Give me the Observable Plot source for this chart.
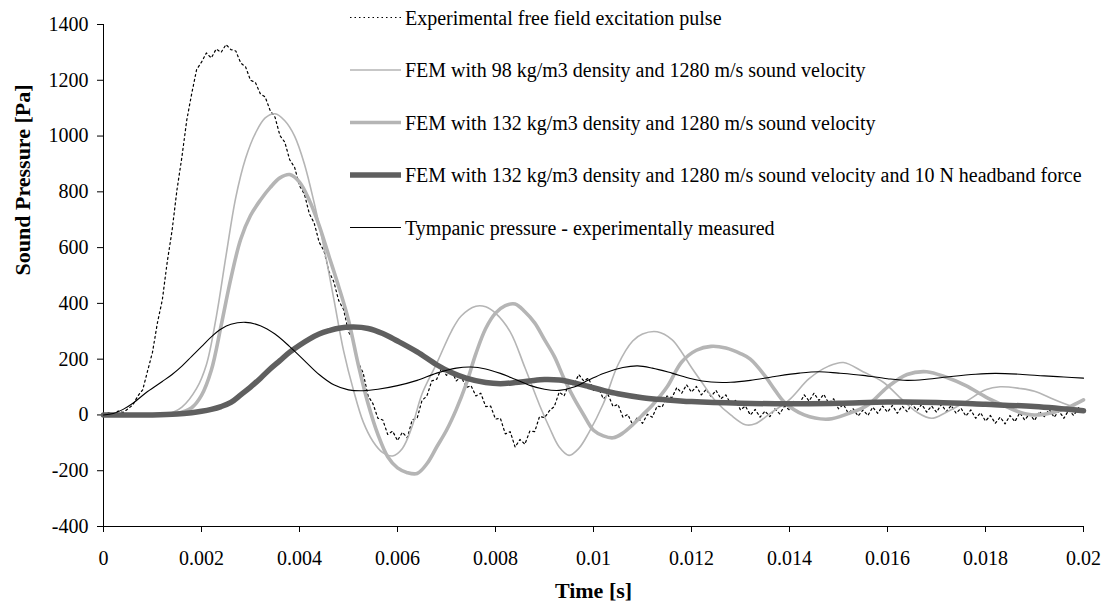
<!DOCTYPE html>
<html>
<head>
<meta charset="utf-8">
<script src="https://cdn.jsdelivr.net/npm/d3@7"></script>
<script src="https://cdn.jsdelivr.net/npm/@observablehq/plot@0.6"></script>
<style>
  body { margin: 0; background: #fff; }
  svg { display: block; }
</style>
</head>
<body>
<div id="chart"></div>
<script>
// ---------- data ----------
const seriesNames = [
  "Experimental free field excitation pulse",
  "FEM with 98 kg/m3 density and 1280 m/s sound velocity",
  "FEM with 132 kg/m3 density and 1280 m/s sound velocity",
  "FEM with 132 kg/m3 density and 1280 m/s sound velocity and 10 N headband force",
  "Tympanic pressure - experimentally measured"
];
const xTicks = [0, 0.002, 0.004, 0.006, 0.008, 0.01, 0.012, 0.014, 0.016, 0.018, 0.02];
const yTicks = [-400, -200, 0, 200, 400, 600, 800, 1000, 1200, 1400];
const xTitle = "Time [s]";
const yTitle = "Sound Pressure [Pa]";

// Experimental free-field pulse, sampled every 0.0001 s from 0 to 0.02 s
const pulseStep = 0.0001;
const pulseValue = [
  0, 8, 2, 14, 9, 22, 36, 68, 90, 158,
  225, 330, 412, 548, 662, 808, 925, 1058, 1152, 1238,
  1265, 1298, 1280, 1312, 1300, 1328, 1310, 1305, 1262, 1248,
  1200, 1192, 1152, 1140, 1092, 1068, 1002, 978, 915, 888,
  822, 792, 722, 688, 620, 588, 515, 478, 410, 378,
  298, 268, 188, 150, 68, 40, -12, -18, -70, -58,
  -92, -62, -82, -18, -12, 52, 68, 122, 128, 168,
  142, 160, 122, 138, 98, 105, 68, 78, 30, 32,
  -15, -12, -68, -60, -115, -88, -105, -58, -60, -5,
  -10, 15, 30, 82, 68, 112, 108, 145, 122, 132,
  88, 98, 58, 72, 30, 38, -8, 2, -35, -8,
  -30, 2, -8, 32, 28, 68, 62, 98, 78, 108,
  82, 102, 72, 92, 66, 88, 58, 72, 40, 52,
  18, 32, 0, 20, -8, 14, -6, 22, 4, 32,
  18, 52, 38, 72, 50, 78, 52, 74, 42, 58,
  22, 38, 6, 22, -4, 18, -2, 28, 6, 32,
  10, 34, 6, 32, 12, 40, 16, 38, 10, 32,
  10, 38, 12, 34, 6, 24, -4, 18, -12, 8,
  -22, -2, -30, -8, -32, -2, -24, 8, -18, 4,
  -20, 12, -6, 20, -8, 14, -12, 18, -2, 26,
  10
];

const fem98Time = [0, 0.0010, 0.0013, 0.0016, 0.0019, 0.0021, 0.0023, 0.0025, 0.0027, 0.0029,
  0.0031, 0.0033, 0.0035, 0.0037, 0.0039, 0.0041, 0.0043, 0.0045, 0.0047, 0.0049,
  0.0051, 0.0053, 0.0055, 0.0057, 0.0059, 0.0061, 0.0063, 0.0065, 0.0068, 0.0071,
  0.0073, 0.0076, 0.0078, 0.0080, 0.0083, 0.0086, 0.0089, 0.0091, 0.0093, 0.0095,
  0.0097, 0.0099, 0.0102, 0.0105, 0.0108, 0.0110, 0.0113, 0.0116, 0.0118, 0.0120,
  0.0122, 0.0125, 0.0128, 0.0131, 0.0133, 0.0136, 0.0140, 0.0144, 0.0148, 0.0151,
  0.0155, 0.0159, 0.0163, 0.0166, 0.0169, 0.0172, 0.0176, 0.0180, 0.0183, 0.0187,
  0.0190, 0.0194, 0.0197, 0.0200];
const fem98Value = [0, 0, 3, 28, 95, 180, 350, 570, 780, 920,
  1010, 1065, 1080, 1055, 1000, 900, 760, 600, 416, 230,
  90, -25, -95, -135, -147, -120, -40, 75, 185, 300,
  355, 390, 388, 365, 298, 170, 35, -45, -115, -145,
  -120, -65, 40, 180, 265, 290, 298, 270, 225, 170,
  120, 48, 0, -35, -32, 5, 55, 130, 175, 188,
  155, 119, 55, 10, -12, 10, 48, 90, 101, 95,
  85, 55, 35, 15];

const fem132Time = [0, 0.0012, 0.0015, 0.0018, 0.0020, 0.0022, 0.0024, 0.0026, 0.0028, 0.0030,
  0.0032, 0.0034, 0.0036, 0.0038, 0.0040, 0.0042, 0.0044, 0.0046, 0.0048, 0.0050,
  0.0052, 0.0054, 0.0056, 0.0058, 0.0060, 0.0062, 0.0064, 0.0066, 0.0068, 0.0070,
  0.0072, 0.0074, 0.0076, 0.0078, 0.0080, 0.0082, 0.0084, 0.0086, 0.0088, 0.0090,
  0.0092, 0.0094, 0.0096, 0.0098, 0.0100, 0.0102, 0.0104, 0.0106, 0.0108, 0.0110,
  0.0112, 0.0115, 0.0118, 0.0121, 0.0124, 0.0127, 0.0130, 0.0132, 0.0135, 0.0137,
  0.0139, 0.0143, 0.0148, 0.0152, 0.0156, 0.0160, 0.0164, 0.0168, 0.0172, 0.0176,
  0.0180, 0.0183, 0.0187, 0.0190, 0.0194, 0.0197, 0.0200];
const fem132Value = [0, 0, 5, 26, 70, 160, 320, 490, 630, 715,
  770, 815, 850, 862, 835, 770, 680, 570, 460, 340,
  180, 40, -70, -150, -190, -207, -210, -175, -115, -55,
  20, 110, 220, 310, 365, 392, 398, 370, 330, 270,
  210, 130, 60, 0, -55, -75, -82, -65, -35, 0,
  35, 100, 190, 232, 246, 240, 220, 200, 140, 90,
  45, 0, -15, 5, 36, 100, 145, 155, 135, 105,
  65, 40, 10, 0, 10, 28, 54];

const headbandTime = [0, 0.0010, 0.0015, 0.0018, 0.0020, 0.0022, 0.0024, 0.0026, 0.0028, 0.0030,
  0.0032, 0.0034, 0.0036, 0.0038, 0.0040, 0.0042, 0.0044, 0.0046, 0.0048, 0.0051,
  0.0054, 0.0057, 0.0060, 0.0064, 0.0068, 0.0071, 0.0074, 0.0078, 0.0081, 0.0084,
  0.0087, 0.0090, 0.0093, 0.0096, 0.0099, 0.0102, 0.0105, 0.0110, 0.0115, 0.0120,
  0.0130, 0.0140, 0.0150, 0.0160, 0.0170, 0.0180, 0.0190, 0.0200];
const headbandValue = [0, 0, 3, 8, 13, 20, 30, 45, 72, 100,
  131, 165, 195, 225, 250, 272, 290, 302, 311, 315,
  310, 292, 265, 226, 180, 152, 132, 116, 112, 116,
  122, 127, 125, 115, 102, 88, 76, 62, 54, 48,
  42, 40, 42, 46, 45, 38, 30, 15];

const tympanicTime = [0, 0.0002, 0.0004, 0.0006, 0.0009, 0.0012, 0.0014, 0.0016, 0.0018, 0.0020,
  0.0022, 0.0024, 0.0026, 0.0029, 0.0032, 0.0035, 0.0038, 0.0041, 0.0044, 0.0047,
  0.0050, 0.0053, 0.0056, 0.0060, 0.0064, 0.0068, 0.0072, 0.0075, 0.0078, 0.0081,
  0.0084, 0.0087, 0.0090, 0.0093, 0.0096, 0.0099, 0.0102, 0.0106, 0.0109, 0.0112,
  0.0116, 0.0120, 0.0124, 0.0128, 0.0132, 0.0137, 0.0142, 0.0146, 0.0150, 0.0155,
  0.0160, 0.0164, 0.0168, 0.0173, 0.0178, 0.0182, 0.0187, 0.0192, 0.0196, 0.0200];
const tympanicValue = [0, 5, 20, 42, 84, 120, 145, 175, 210, 245,
  280, 308, 325, 332, 320, 290, 245, 195, 145, 108,
  90, 87, 92, 105, 124, 150, 168, 172, 165, 149,
  128, 106, 92, 88, 100, 125, 149, 170, 176, 168,
  150, 130, 118, 117, 124, 138, 150, 155, 150, 142,
  130, 124, 128, 138, 146, 149, 146, 140, 136, 132];

// ---------- build tables ----------
const toRows = (T, V) => T.map((t, i) => ({t, v: V[i]}));
const pulseRows = pulseValue.map((v, i) => ({t: i * pulseStep, v}));
const fem98Rows = toRows(fem98Time, fem98Value);
const fem132Rows = toRows(fem132Time, fem132Value);
const headbandRows = toRows(headbandTime, headbandValue);
const tympanicRows = toRows(tympanicTime, tympanicValue);

// styles (same order as seriesNames)
const styles = [
  {stroke: "#000000", strokeWidth: 1.2, dash: "2,3"},
  {stroke: "#b5b5b5", strokeWidth: 1.6, dash: null},
  {stroke: "#b5b5b5", strokeWidth: 3.6, dash: null},
  {stroke: "#5f5f5f", strokeWidth: 5.5, dash: null},
  {stroke: "#000000", strokeWidth: 1.1, dash: null}
];

const font = "'Liberation Serif', 'Times New Roman', Times, serif";
const smooth = "catmull-rom";

const chart = Plot.plot({
  width: 1104,
  height: 610,
  marginLeft: 103,
  marginRight: 21,
  marginTop: 24,
  marginBottom: 84,
  style: {fontFamily: font, fontSize: "20px", background: "#ffffff", color: "#000000"},
  x: {domain: [0, 0.02]},
  y: {domain: [-400, 1400]},
  marks: [
    Plot.axisX({ticks: xTicks, tickFormat: d3.format("~g"), tickSize: 6, tickPadding: 18, label: null}),
    Plot.axisY({ticks: yTicks, tickFormat: d => String(d), tickSize: 6, tickPadding: 9, label: null}),
    Plot.ruleY([-400], {stroke: "#000"}),
    Plot.ruleX([0], {stroke: "#000"}),
    Plot.line(pulseRows, {x: "t", y: "v", stroke: styles[0].stroke, strokeWidth: styles[0].strokeWidth, strokeDasharray: styles[0].dash}),
    Plot.line(fem98Rows, {x: "t", y: "v", stroke: styles[1].stroke, strokeWidth: styles[1].strokeWidth, curve: smooth}),
    Plot.line(fem132Rows, {x: "t", y: "v", stroke: styles[2].stroke, strokeWidth: styles[2].strokeWidth, curve: smooth}),
    Plot.line(headbandRows, {x: "t", y: "v", stroke: styles[3].stroke, strokeWidth: styles[3].strokeWidth, curve: smooth}),
    Plot.line(tympanicRows, {x: "t", y: "v", stroke: styles[4].stroke, strokeWidth: styles[4].strokeWidth, curve: smooth}),
    Plot.text([yTitle], {text: d => d, frameAnchor: "left", dx: -81, rotate: -90, fontWeight: "bold", fontSize: 22, fill: "#000"}),
    Plot.text([xTitle], {text: d => d, frameAnchor: "bottom", dy: 71, fontWeight: "bold", fontSize: 22, fill: "#000"})
  ]
});

// ---------- legend (inside plot area, upper right) ----------
const svg = d3.select(chart);
const lg = svg.append("g")
  .attr("font-family", font)
  .attr("font-size", 20)
  .attr("text-anchor", "start");
seriesNames.forEach((name, i) => {
  const y = 17.5 + i * 52.5;
  const s = styles[i];
  const ln = lg.append("line")
    .attr("x1", 350).attr("x2", 401).attr("y1", y).attr("y2", y)
    .attr("stroke", s.stroke).attr("stroke-width", s.strokeWidth);
  if (s.dash) ln.attr("stroke-dasharray", "1.5,3");
  lg.append("text").attr("x", 405).attr("y", y).attr("dy", "0.35em")
    .attr("text-anchor", "start")
    .attr("fill", "#000").text(name);
});

document.getElementById("chart").appendChild(chart);
</script>
</body>
</html>
